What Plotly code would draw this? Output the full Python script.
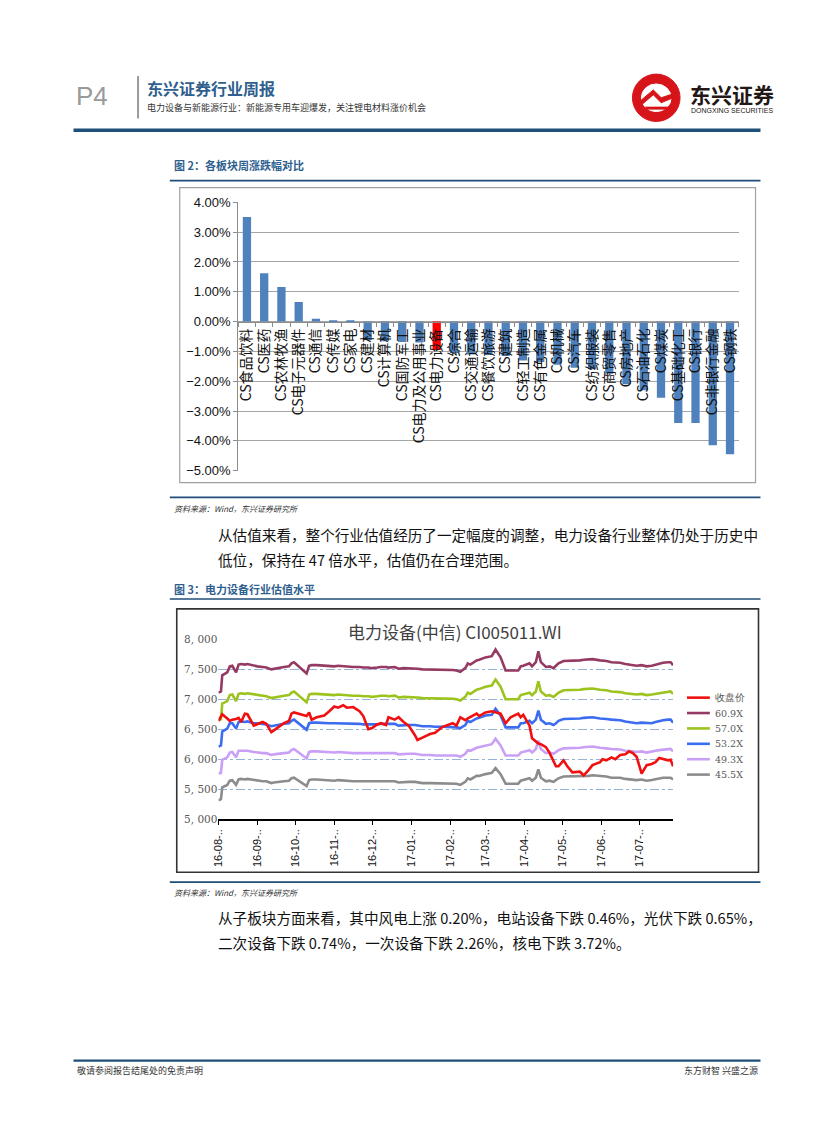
import plotly.graph_objects as go

W, H = 827, 1122

# ---------------- data: figure 2 (weekly change by sector, %) ----------------
categories = ["CS食品饮料", "CS医药", "CS农林牧渔", "CS电子元器件", "CS通信", "CS传媒", "CS家电",
              "CS建材", "CS计算机", "CS国防军工", "CS电力及公用事业", "CS电力设备", "CS综合",
              "CS交通运输", "CS餐饮旅游", "CS建筑", "CS轻工制造", "CS有色金属", "CS机械", "CS汽车",
              "CS纺织服装", "CS商贸零售", "CS房地产", "CS石油石化", "CS煤炭", "CS基础化工",
              "CS银行", "CS非银行金融", "CS钢铁"]
weekly_change = [3.51, 1.62, 1.16, 0.66, 0.10, 0.04, 0.01,
                 -0.62, -0.66, -0.68, -0.70, -0.95, -1.05,
                 -1.10, -1.12, -1.15, -1.30, -1.35, -1.45, -1.55,
                 -1.60, -1.75, -2.10, -2.30, -2.55, -3.40,
                 -3.40, -4.15, -4.45]
highlight = "CS电力设备"

# ---------------- data: figure 3 (valuation bands) ----------------
dates = ["2016-08-01", "2016-08-03", "2016-08-04", "2016-08-08", "2016-08-10", "2016-08-12", "2016-08-15", "2016-08-17", "2016-08-19", "2016-08-22",
         "2016-08-24", "2016-08-29", "2016-09-01", "2016-09-05", "2016-09-08", "2016-09-12", "2016-09-14", "2016-09-19", "2016-09-22", "2016-09-26",
         "2016-09-28", "2016-09-30", "2016-10-10", "2016-10-12", "2016-10-14", "2016-10-18", "2016-10-24", "2016-10-28", "2016-11-01", "2016-11-04",
         "2016-11-08", "2016-11-11", "2016-11-16", "2016-11-21", "2016-11-24", "2016-11-28", "2016-12-01", "2016-12-05", "2016-12-08", "2016-12-12",
         "2016-12-14", "2016-12-19", "2016-12-22", "2016-12-26", "2016-12-30", "2017-01-04", "2017-01-06", "2017-01-10", "2017-01-16", "2017-01-20",
         "2017-01-26", "2017-02-03", "2017-02-06", "2017-02-09", "2017-02-13", "2017-02-15", "2017-02-17", "2017-02-22", "2017-02-24", "2017-03-01",
         "2017-03-06", "2017-03-09", "2017-03-13", "2017-03-17", "2017-03-21", "2017-03-27", "2017-03-29", "2017-03-31", "2017-04-05", "2017-04-07",
         "2017-04-10", "2017-04-12", "2017-04-14", "2017-04-18", "2017-04-21", "2017-04-24", "2017-04-26", "2017-04-28", "2017-05-02", "2017-05-05",
         "2017-05-09", "2017-05-15", "2017-05-18", "2017-05-22", "2017-05-25", "2017-05-31", "2017-06-02", "2017-06-05", "2017-06-09", "2017-06-12",
         "2017-06-16", "2017-06-20", "2017-06-23", "2017-06-26", "2017-06-29", "2017-07-03", "2017-07-07", "2017-07-11", "2017-07-14", "2017-07-17",
         "2017-07-20", "2017-07-24", "2017-07-26", "2017-07-28"]

close_price = [6640, 6700, 6750, 6680, 6640, 6660, 6670, 6690, 6620, 6760,
               6750, 6560, 6580, 6620, 6590, 6450, 6480, 6560, 6600, 6640,
               6760, 6780, 6720, 6780, 6660, 6700, 6730, 6800, 6880, 6860,
               6900, 6860, 6870, 6800, 6720, 6500, 6520, 6580, 6600, 6570,
               6700, 6660, 6700, 6620, 6560, 6400, 6320, 6360, 6420, 6440,
               6540, 6600, 6560, 6700, 6650, 6680, 6700, 6760, 6720, 6780,
               6800, 6780, 6760, 6600, 6700, 6760, 6700, 6740, 6560, 6350,
               6300, 6260, 6250, 6200, 6100, 5950, 5880, 5880, 5980, 5880,
               5780, 5790, 5730, 5820, 5900, 5950, 6000, 5980, 6030, 6000,
               6070, 6080, 6130, 6100, 6040, 5760, 5900, 5920, 5950, 6020,
               6000, 5980, 5990, 5880]

pe_609 = [7110, 7130, 7400, 7450, 7550, 7560, 7450, 7580, 7590, 7580,
          7590, 7560, 7550, 7540, 7530, 7500, 7510, 7530, 7540, 7550,
          7600, 7620, 7430, 7560, 7570, 7570, 7560, 7550, 7550, 7560,
          7550, 7550, 7540, 7540, 7530, 7530, 7520, 7530, 7540, 7540,
          7530, 7540, 7510, 7520, 7520, 7520, 7510, 7500, 7500, 7490,
          7490, 7490, 7480, 7460, 7520, 7600, 7580, 7650, 7660, 7700,
          7720, 7830, 7700, 7480, 7480, 7480, 7550, 7560, 7600, 7550,
          7620, 7800, 7620, 7540, 7550, 7520, 7560, 7600, 7640, 7640,
          7640, 7650, 7660, 7660, 7670, 7650, 7650, 7640, 7620, 7620,
          7610, 7590, 7580, 7570, 7560, 7570, 7550, 7560, 7580, 7600,
          7610, 7620, 7620, 7570]

pe_570 = [6650, 6670, 6930, 6970, 7070, 7080, 6970, 7090, 7100, 7090,
          7100, 7080, 7070, 7060, 7050, 7020, 7030, 7050, 7060, 7070,
          7110, 7130, 6950, 7080, 7090, 7090, 7080, 7070, 7070, 7080,
          7070, 7070, 7060, 7060, 7050, 7050, 7040, 7050, 7060, 7060,
          7050, 7060, 7030, 7040, 7040, 7040, 7030, 7020, 7020, 7010,
          7010, 7010, 7000, 6980, 7040, 7110, 7090, 7160, 7170, 7210,
          7230, 7330, 7210, 7000, 7000, 7000, 7070, 7080, 7110, 7070,
          7130, 7300, 7130, 7060, 7070, 7040, 7080, 7110, 7150, 7150,
          7150, 7160, 7170, 7170, 7180, 7160, 7160, 7150, 7130, 7130,
          7120, 7100, 7090, 7090, 7080, 7090, 7070, 7080, 7090, 7110,
          7120, 7130, 7130, 7090]

pe_532 = [6210, 6230, 6460, 6510, 6600, 6600, 6510, 6620, 6630, 6620,
          6630, 6600, 6600, 6590, 6580, 6550, 6560, 6580, 6590, 6600,
          6640, 6660, 6490, 6600, 6610, 6610, 6600, 6600, 6600, 6600,
          6600, 6600, 6590, 6590, 6580, 6580, 6570, 6580, 6590, 6590,
          6580, 6590, 6560, 6570, 6570, 6570, 6560, 6550, 6550, 6540,
          6540, 6540, 6530, 6520, 6570, 6640, 6620, 6680, 6690, 6730,
          6740, 6840, 6730, 6530, 6530, 6530, 6600, 6600, 6640, 6600,
          6660, 6810, 6660, 6590, 6600, 6570, 6600, 6640, 6670, 6670,
          6670, 6680, 6690, 6690, 6700, 6680, 6680, 6670, 6660, 6660,
          6650, 6630, 6620, 6610, 6600, 6610, 6600, 6600, 6620, 6640,
          6650, 6660, 6660, 6610]

pe_493 = [5760, 5770, 5990, 6030, 6110, 6120, 6030, 6140, 6140, 6140,
          6140, 6120, 6110, 6100, 6100, 6070, 6080, 6100, 6100, 6110,
          6150, 6170, 6010, 6120, 6130, 6130, 6120, 6110, 6110, 6120,
          6110, 6110, 6100, 6100, 6100, 6100, 6090, 6100, 6100, 6100,
          6100, 6100, 6080, 6090, 6090, 6090, 6080, 6070, 6070, 6060,
          6060, 6060, 6060, 6040, 6090, 6150, 6140, 6190, 6200, 6230,
          6250, 6340, 6230, 6060, 6060, 6060, 6110, 6120, 6150, 6110,
          6170, 6310, 6170, 6100, 6110, 6090, 6120, 6150, 6180, 6180,
          6180, 6190, 6200, 6200, 6210, 6190, 6190, 6180, 6170, 6170,
          6160, 6140, 6140, 6130, 6120, 6130, 6110, 6120, 6140, 6150,
          6160, 6170, 6170, 6130]

pe_455 = [5310, 5330, 5530, 5570, 5640, 5650, 5570, 5660, 5670, 5660,
          5670, 5650, 5640, 5630, 5630, 5600, 5610, 5630, 5630, 5640,
          5680, 5690, 5550, 5650, 5660, 5660, 5650, 5640, 5640, 5650,
          5640, 5640, 5630, 5630, 5630, 5630, 5620, 5630, 5630, 5630,
          5630, 5630, 5610, 5620, 5620, 5620, 5610, 5600, 5600, 5600,
          5600, 5600, 5590, 5570, 5620, 5680, 5660, 5720, 5720, 5750,
          5770, 5850, 5750, 5590, 5590, 5590, 5640, 5650, 5680, 5640,
          5690, 5830, 5690, 5630, 5640, 5620, 5650, 5680, 5710, 5710,
          5710, 5720, 5720, 5720, 5730, 5720, 5720, 5710, 5690, 5690,
          5690, 5670, 5660, 5660, 5650, 5660, 5640, 5650, 5660, 5680,
          5690, 5690, 5690, 5660]

y_ticks = [5000, 5500, 6000, 6500, 7000, 7500, 8000]
y_ticktext = ["5, 000", "5, 500", "6, 000", "6, 500", "7, 000", "7, 500", "8, 000"]

# ---------------- helpers (page pixel -> paper) ----------------
def px(x):
    return x / W

def py(y):
    return 1 - y / H

CJK = "Noto Sans CJK SC"
SANS = "Liberation Sans"
NAVY = "#1F4E79"
CAP_BLUE = "#2F5F8F"

fig = go.Figure()

# ---- figure 2 bars ----
bar_colors = ["#FF0000" if c == highlight else "#4F81BD" for c in categories]
fig.add_trace(go.Bar(x=categories, y=weekly_change, marker=dict(color=bar_colors, line=dict(width=0)),
                     width=0.48, showlegend=False, xaxis="x", yaxis="y"))

# ---- figure 3 lines ----
series = [
    ("收盘价", close_price, "#F01010"),
    ("60.9X", pe_609, "#953A63"),
    ("57.0X", pe_570, "#9CC31E"),
    ("53.2X", pe_532, "#3C6CF0"),
    ("49.3X", pe_493, "#C9A0F5"),
    ("45.5X", pe_455, "#8C8C8C"),
]
# draw bands first, close price on top
for name, vals, col in series[1:] + series[:1]:
    fig.add_trace(go.Scatter(x=dates, y=vals, mode="lines", name=name, showlegend=False,
                             line=dict(color=col, width=2.6), xaxis="x2", yaxis="y2"))

fig.update_layout(
    width=W, height=H,
    margin=dict(l=0, r=0, t=0, b=0),
    paper_bgcolor="white", plot_bgcolor="rgba(0,0,0,0)",
    showlegend=False,
    xaxis=dict(domain=[px(234), px(738)], anchor="free", position=py(319), type="category",
               tickangle=-90, tickfont=dict(family=CJK, size=14, color="#111111"),
               showline=True, linecolor="#8C8C8C", linewidth=1.2,
               ticks="outside", ticklen=4, tickcolor="#8C8C8C", tickson="boundaries",
               showgrid=False, zeroline=False, fixedrange=True),
    yaxis=dict(domain=[py(470), py(198)], anchor="x", range=[-5, 4], dtick=1,
               tickformat=".2f", ticksuffix="%", tickfont=dict(family=SANS, size=13, color="#111111"),
               showgrid=True, gridcolor="#A6A6A6", gridwidth=1.3,
               showline=True, linecolor="#8C8C8C", linewidth=1.2, ticks="outside", ticklen=4,
               tickcolor="#8C8C8C", zeroline=False),
    xaxis2=dict(domain=[px(214), px(672)], anchor="y2", type="date",
                range=["2016-08-01", "2017-07-28"], tick0="2016-08-01", dtick="M1",
                tickformat="%y-%m-..", tickangle=-90, tickfont=dict(family=SANS, size=11, color="#111111"),
                showline=True, linecolor="#000000", linewidth=1.5, ticks="outside", ticklen=4,
                tickcolor="#000000", showgrid=False, zeroline=False),
    yaxis2=dict(domain=[py(823), py(641)], anchor="x2", range=[5000, 8000],
                tickvals=y_ticks, ticktext=y_ticktext,
                tickfont=dict(family="DejaVu Serif", size=10.5, color="#595959"),
                showgrid=True, gridcolor="#95B3D7", gridwidth=1, griddash="dashdot",
                showline=False, zeroline=False, ticks=""),
)

shapes = []
def hline(y, x0, x1, color, width):
    shapes.append(dict(type="line", xref="paper", yref="paper", x0=px(x0), x1=px(x1),
                       y0=py(y), y1=py(y), line=dict(color=color, width=width)))

# header
shapes.append(dict(type="line", xref="paper", yref="paper", x0=px(133), x1=px(133),
                   y0=py(70), y1=py(113), line=dict(color="#9A9A9A", width=2)))
hline(125, 68, 760, NAVY, 3.5)
# figure 2 frame
hline(176, 165, 760, NAVY, 1.6)
shapes.append(dict(type="rect", xref="paper", yref="paper", x0=px(175), x1=px(755),
                   y0=py(482), y1=py(183), line=dict(color="#A0A0A0", width=1.2)))
hline(497, 165, 760, NAVY, 1.6)
# figure 3 frame
hline(600, 165, 760, NAVY, 1.6)
shapes.append(dict(type="rect", xref="paper", yref="paper", x0=px(172), x1=px(758),
                   y0=py(877), y1=py(610), line=dict(color="#333333", width=1.6)))
hline(887, 165, 760, NAVY, 1.6)
# footer
hline(1068, 68, 760, NAVY, 2.2)
# logo
shapes.append(dict(type="circle", xref="paper", yref="paper", x0=px(631), x1=px(679),
                   y0=py(116), y1=py(68), fillcolor="#D7141A", line=dict(color="#D7141A", width=1)))
shapes.append(dict(type="circle", xref="paper", yref="paper", x0=px(640), x1=px(670),
                   y0=py(106), y1=py(78), fillcolor="white", line=dict(color="white", width=1)))
shapes.append(dict(type="path", xref="paper", yref="paper",
                   path=f"M {px(638)},{py(96)} L {px(652)},{py(84)} L {px(660)},{py(92)} L {px(672)},{py(88)} "
                        f"L {px(672)},{py(92)} L {px(660)},{py(97)} L {px(652)},{py(89)} L {px(638)},{py(101)} Z",
                   fillcolor="#D7141A", line=dict(color="#D7141A", width=1)))
shapes.append(dict(type="rect", xref="paper", yref="paper", x0=px(644), x1=px(668),
                   y0=py(104), y1=py(101), fillcolor="#D7141A", line=dict(width=0)))

annotations = []
def text(x, y, s, size, color="#000000", family=CJK, anchor="left", bold=False, italic=False, valign="middle"):
    annotations.append(dict(xref="paper", yref="paper", x=px(x), y=py(y), text=s, showarrow=False,
                            xanchor=anchor, yanchor=valign,
                            font=dict(family=family, size=size, color=color,
                                      weight="bold" if bold else "normal",
                                      style="italic" if italic else "normal")))

# legend of figure 3 (key lines + labels)
for i, (name, vals, col) in enumerate(series):
    ly = 700 + i * 15.6
    shapes.append(dict(type="line", xref="paper", yref="paper", x0=px(686), x1=px(709),
                       y0=py(ly), y1=py(ly), line=dict(color=col, width=2.6)))
    text(712, ly, name, 9.5, "#595959", family="DejaVu Serif")

text(68, 90, "P4", 26, "#9A9A9A", family="Liberation Sans")
text(140, 82, "东兴证券行业周报", 16, CAP_BLUE, bold=True)
text(140, 102, "电力设备与新能源行业：新能源专用车迎爆发，关注锂电材料涨价机会", 9, "#333333")
text(687, 88, "东兴证券", 21, "#231815", bold=True)
text(688, 105, "DONGXING SECURITIES", 7, "#231815", family="Liberation Sans")

text(167, 160, "图 2：各板块周涨跌幅对比", 11, CAP_BLUE, bold=True)
text(167, 508, "资料来源：Wind，东兴证券研究所", 8, "#333333", italic=True)
text(212, 535, "从估值来看，整个行业估值经历了一定幅度的调整，电力设备行业整体仍处于历史中", 14.6, "#111111")
text(212, 560, "低位，保持在 47 倍水平，估值仍在合理范围。", 14.6, "#111111")
text(167, 590, "图 3：电力设备行业估值水平", 11, CAP_BLUE, bold=True)
text(452, 633, "电力设备(中信) CI005011.WI", 17, "#404040", anchor="center")
text(167, 897, "资料来源：Wind，东兴证券研究所", 8, "#333333", italic=True)
text(212, 923, "从子板块方面来看，其中风电上涨 0.20%，电站设备下跌 0.46%，光伏下跌 0.65%，", 14.6, "#111111")
text(212, 948, "二次设备下跌 0.74%，一次设备下跌 2.26%，核电下跌 3.72%。", 14.6, "#111111")
text(70, 1078, "敬请参阅报告结尾处的免责声明", 9, "#333333")
text(760, 1078, "东方财智 兴盛之源", 9, "#333333", anchor="right")

fig.update_layout(shapes=shapes, annotations=annotations)

fig.write_html("out.html", config={"displayModeBar": False},
               post_script="document.body.style.margin='0px';")
